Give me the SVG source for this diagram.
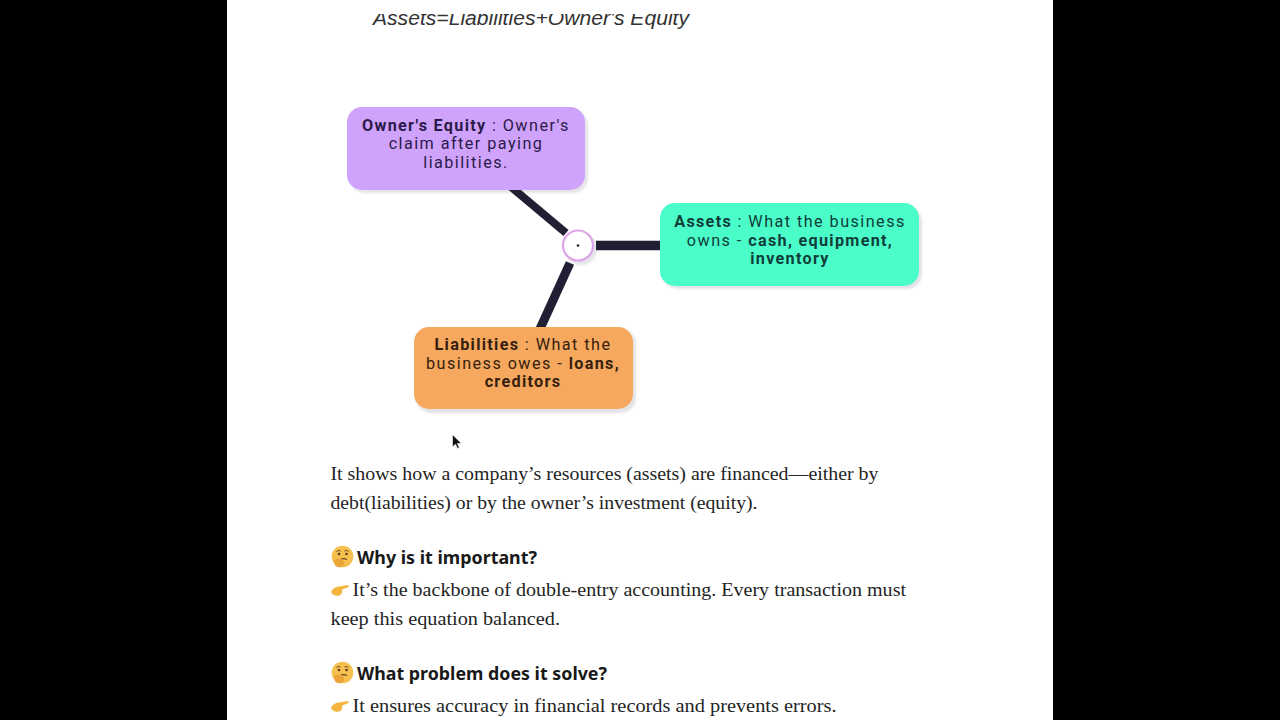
<svg xmlns="http://www.w3.org/2000/svg" width="1280" height="720" viewBox="0 0 1280 720">
<style>
.n{font-family:Roboto,"Noto Sans",sans-serif;font-size:16.2px;text-anchor:middle;letter-spacing:1.45px}
.n tspan.b{font-weight:700;letter-spacing:1.3px}
.p{font-family:"Liberation Serif","DejaVu Serif",serif;font-size:19.5px;fill:#242424}
.h{font-family:"Noto Sans","Liberation Sans",sans-serif;font-size:18px;font-weight:700;fill:#191919}
.c{stroke:#211f33;fill:none}
.s{fill:#e4e4e8;filter:url(#blur)}
</style>
<defs>
<filter id="blur" x="-10%" y="-10%" width="120%" height="120%"><feGaussianBlur stdDeviation="1.200"/></filter>
<clipPath id="top"><rect x="300" y="14" width="500" height="30"/></clipPath>
<g id="think">
<circle cx="11.500" cy="10.500" r="10.800" fill="#f5c04e"/>
<path d="M5.500 5.500q2-2 4-.5M13.500 5q2-1.500 4 .5" stroke="#6b4420" stroke-width="1" fill="none"/>
<circle cx="8" cy="8" r="1.300" fill="#5b3a1e"/>
<circle cx="15.500" cy="8" r="1.300" fill="#5b3a1e"/>
<path d="M10 13q3-1 6 .5" stroke="#6b4420" stroke-width="1.100" fill="none"/>
<path d="M3 14q5-2.500 9 .5l1.500 4q-5 5-9.500 1z" fill="#eba437"/>
</g>
<g id="point">
<path d="M0 8q2-5 8-5.500l9-1.500q1.500 1.500-.5 2.500l-5.500 2q1 3-1 5q-2 2-6 1q-3-1-4-3.500z" fill="#f4b63f"/>
</g>
</defs>
<rect width="1280" height="720" fill="#000"/>
<rect x="227" width="826" height="720" fill="#fff"/>
<text x="373" y="25" clip-path="url(#top)" font-family="Liberation Sans,Arial,sans-serif" font-size="19.500" font-style="italic" fill="#333" textLength="316" lengthAdjust="spacingAndGlyphs">Assets=Liabilities+Owner's Equity</text>
<g id="shadows">
<rect class="s" x="350" y="110" width="238" height="83" rx="15"/>
<rect class="s" x="663" y="206" width="259" height="83" rx="15"/>
<rect class="s" x="416" y="329" width="220" height="84" rx="15"/>
<circle class="s" cx="581" cy="249" r="16"/>
</g>
<g id="connectors">
<path class="c" stroke-width="8" d="M510 186L566 233"/>
<path class="c" stroke-width="9.500" d="M596 245.500H662"/>
<path class="c" stroke-width="9" d="M570 263L539 331"/>
</g>
<g id="owners-equity">
<rect x="347" y="107" width="238" height="83" rx="15" fill="#cfa2fb"/>
<text class="n" fill="#2a1a4a"><tspan x="466" y="130.500"><tspan class="b">Owner's Equity</tspan> : Owner's</tspan><tspan x="466" y="149">claim after paying</tspan><tspan x="466" y="167.500">liabilities.</tspan></text>
</g>
<g id="assets">
<rect x="660" y="203" width="259" height="83" rx="15" fill="#4bfdc9"/>
<text class="n" fill="#0f3d3a"><tspan x="790" y="227"><tspan class="b">Assets</tspan> : What the business</tspan><tspan x="790" y="245.500">owns - <tspan class="b">cash, equipment,</tspan></tspan><tspan x="790" y="264"><tspan class="b">inventory</tspan></tspan></text>
</g>
<g id="liabilities">
<rect x="414" y="327" width="219" height="82" rx="15" fill="#f6a95e"/>
<text class="n" fill="#35200f"><tspan x="523" y="350"><tspan class="b">Liabilities</tspan> : What the</tspan><tspan x="523" y="368.500">business owes - <tspan class="b">loans,</tspan></tspan><tspan x="523" y="387"><tspan class="b">creditors</tspan></tspan></text>
</g>
<g id="hub">
<circle cx="578" cy="245.500" r="15" fill="#fff" stroke="#dfa5ea" stroke-width="2.200"/>
<circle cx="578" cy="245.500" r="1.300" fill="#211f33"/>
</g>
<path d="M452.500 434.500V447l3-2.800 2 4.300 1.800-.8-2-4.200h4z" fill="#111" stroke="#fff" stroke-width=".6"/>
<text class="p" x="330.500" y="480" textLength="548" lengthAdjust="spacingAndGlyphs">It shows how a company’s resources (assets) are financed—either by</text>
<text class="p" x="330.500" y="509" textLength="427" lengthAdjust="spacingAndGlyphs">debt(liabilities) or by the owner’s investment (equity).</text>
<use href="#think" x="331" y="546"/>
<text class="h" x="357" y="564" textLength="180" lengthAdjust="spacingAndGlyphs">Why is it important?</text>
<use href="#point" x="331" y="584"/>
<text class="p" x="352.500" y="596" textLength="553.500" lengthAdjust="spacingAndGlyphs">It’s the backbone of double-entry accounting. Every transaction must</text>
<text class="p" x="330.500" y="625" textLength="229.500" lengthAdjust="spacingAndGlyphs">keep this equation balanced.</text>
<use href="#think" x="331" y="662"/>
<text class="h" x="357" y="680" textLength="250" lengthAdjust="spacingAndGlyphs">What problem does it solve?</text>
<use href="#point" x="331" y="700"/>
<text class="p" x="352.500" y="712" textLength="484" lengthAdjust="spacingAndGlyphs">It ensures accuracy in financial records and prevents errors.</text>
</svg>
